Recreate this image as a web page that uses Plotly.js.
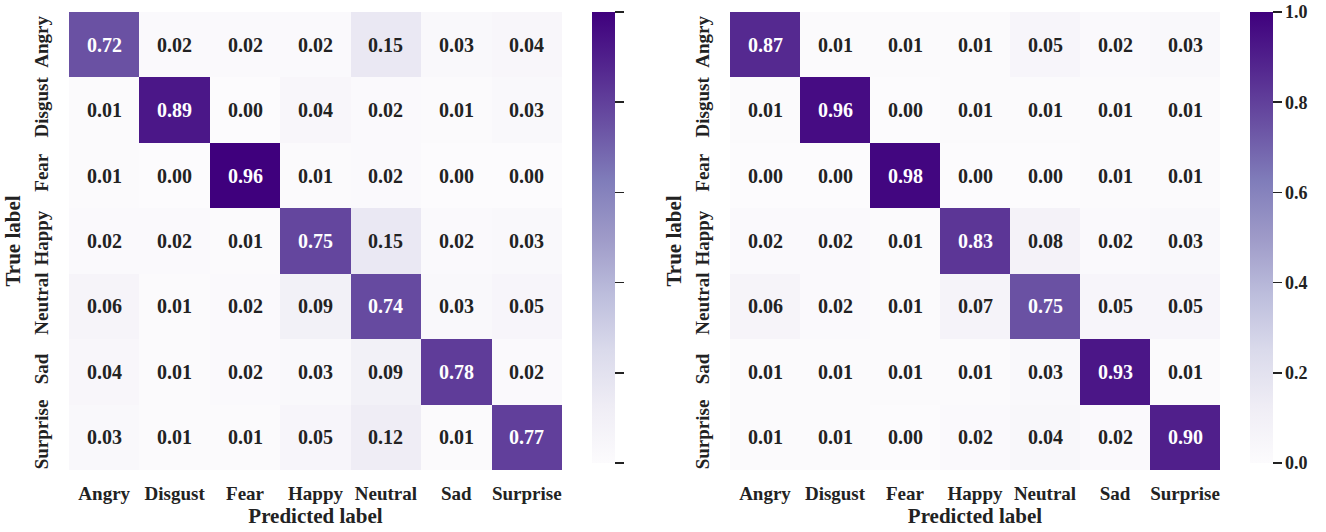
<!DOCTYPE html>
<html><head><meta charset="utf-8">
<script src="https://cdn.plot.ly/plotly-3.0.1.min.js"></script>
<style>html,body{margin:0;padding:0;background:#fff}#c{width:1326px;height:532px}</style>
</head><body><div id="c"></div>
<script>
const labels = ["Angry","Disgust","Fear","Happy","Neutral","Sad","Surprise"];
const leftValues = [
 [0.72,0.02,0.02,0.02,0.15,0.03,0.04],
 [0.01,0.89,0.00,0.04,0.02,0.01,0.03],
 [0.01,0.00,0.96,0.01,0.02,0.00,0.00],
 [0.02,0.02,0.01,0.75,0.15,0.02,0.03],
 [0.06,0.01,0.02,0.09,0.74,0.03,0.05],
 [0.04,0.01,0.02,0.03,0.09,0.78,0.02],
 [0.03,0.01,0.01,0.05,0.12,0.01,0.77]
];
const rightValues = [
 [0.87,0.01,0.01,0.01,0.05,0.02,0.03],
 [0.01,0.96,0.00,0.01,0.01,0.01,0.01],
 [0.00,0.00,0.98,0.00,0.00,0.01,0.01],
 [0.02,0.02,0.01,0.83,0.08,0.02,0.03],
 [0.06,0.02,0.01,0.07,0.75,0.05,0.05],
 [0.01,0.01,0.01,0.01,0.03,0.93,0.01],
 [0.01,0.01,0.00,0.02,0.04,0.02,0.90]
];
const rightTicks = [0,0.2,0.4,0.6,0.8,1.0];
const rightTickText = ["0.0","0.2","0.4","0.6","0.8","1.0"];

const purples = [
 [0.0,"#fcfbfd"],[0.125,"#efedf5"],[0.25,"#dadaeb"],[0.375,"#bcbddc"],
 [0.5,"#9e9ac8"],[0.625,"#807dba"],[0.75,"#6a51a3"],[0.875,"#54278f"],[1.0,"#3f007d"]
];
const FONT = "Liberation Serif, Times New Roman, serif";
const leftMax = 0.96;
const leftTicks = [0,1,2,3,4,5].map(i => leftMax*i/5);

function cbar(x, tickvals, ticktext){
  return {x:x, xanchor:"left", y:1-12/532, yanchor:"top", len:451/532, lenmode:"fraction",
    xpad:0, ypad:0,
    thickness:23, thicknessmode:"pixels", outlinewidth:0, ticks:"outside", ticklen:9,
    tickwidth:1.5, tickcolor:"#222", tickvals:tickvals, ticktext:ticktext,
    tickfont:{family:FONT, size:18, color:"#222", weight:"bold"}};
}

const traces = [
 {type:"heatmap", z:leftValues, x:labels, y:labels, xaxis:"x", yaxis:"y",
  colorscale:purples, zmin:0, zmax:leftMax, hoverinfo:"skip",
  colorbar:cbar(592/1326, leftTicks, leftTicks.map(()=>""))},
 {type:"heatmap", z:rightValues, x:labels, y:labels, xaxis:"x2", yaxis:"y2",
  colorscale:purples, zmin:0, zmax:1, hoverinfo:"skip",
  colorbar:cbar(1250/1326, rightTicks, rightTickText)}
];

const annotations = [];
function addText(vals, xr, yr, thr){
  vals.forEach((row,i)=>row.forEach((v,j)=>{
    annotations.push({x:labels[j], y:labels[i], xref:xr, yref:yr, text:v.toFixed(2),
      showarrow:false, font:{family:FONT, size:20, weight:"bold", color: v>thr ? "#ffffff" : "#222222"}});
  }));
}
addText(leftValues,"x","y",leftMax/2);
addText(rightValues,"x2","y2",0.5);

const tickf = {family:FONT, size:19, color:"#222", weight:"bold"};
const titf = {family:FONT, size:21, color:"#222", weight:"bold"};
function xa(d){return {domain:d, tickfont:tickf, ticks:"", showgrid:false, zeroline:false,
  showline:false, ticklabelstandoff:10, title:{text:"Predicted label", font:titf, standoff:4}, tickangle:0, fixedrange:true};}
function ya(d, anchor){return {domain:d, anchor:anchor, autorange:"reversed", tickfont:tickf, ticks:"",
  showgrid:false, zeroline:false, showline:false, tickangle:-90, ticklabelstandoff:16,
  title:{text:"True label", font:titf, standoff:4}, fixedrange:true};}

const yd = [1-470/532, 1-12/532];
const layout = {
  width:1326, height:532, margin:{l:0,r:0,t:0,b:0}, paper_bgcolor:"#fff", plot_bgcolor:"#fff",
  showlegend:false,
  xaxis: Object.assign(xa([69/1326, 562/1326]), {anchor:"y"}),
  yaxis: ya(yd, "x"),
  xaxis2: Object.assign(xa([730/1326, 1220/1326]), {anchor:"y2"}),
  yaxis2: ya(yd, "x2"),
  annotations: annotations
};
Plotly.newPlot("c", traces, layout, {displayModeBar:false, staticPlot:true});
</script></body></html>
